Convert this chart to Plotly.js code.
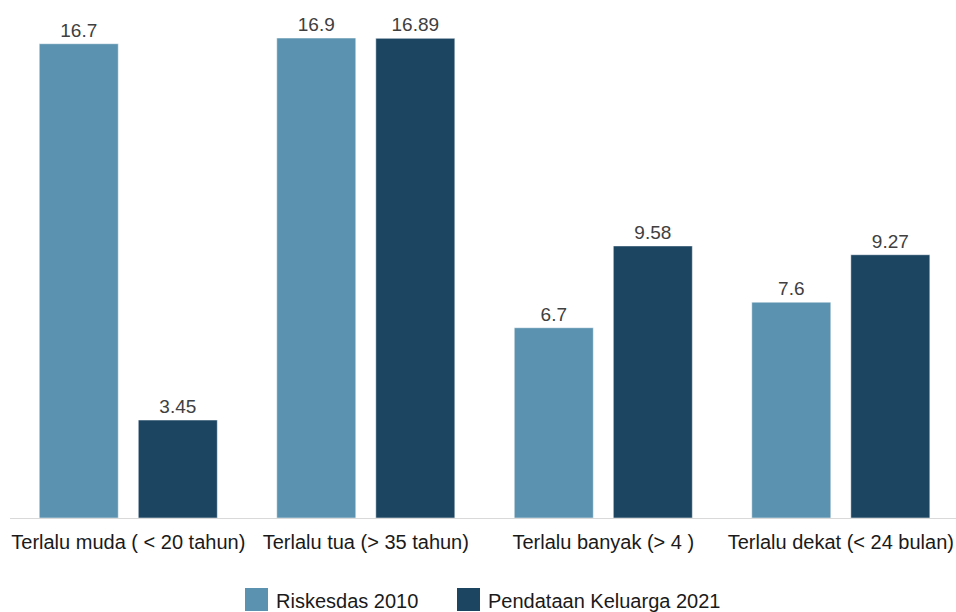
<!DOCTYPE html>
<html>
<head>
<meta charset="utf-8">
<script src="https://cdn.plot.ly/plotly-3.0.1.min.js"></script>
<style>html,body{margin:0;padding:0;background:#fff;}#chart{width:956px;height:612px;}</style>
</head>
<body>
<div id="chart"></div>
<script>
var categories = ["Terlalu muda ( < 20 tahun)", "Terlalu tua (> 35 tahun)", "Terlalu banyak (> 4 )", "Terlalu dekat (< 24 bulan)"];
var seriesNames = ["Riskesdas 2010", "Pendataan Keluarga 2021"];
var riskesdas2010 = [16.7, 16.9, 6.7, 7.6];
var pendataan2021 = [3.45, 16.89, 9.58, 9.27];
var colors = ["#5b92af", "#1c4562"];

var W = 956, H = 612, ML = 10, MR = 0, MT = 10, MB = 94;
var PW = W - ML - MR, PH = H - MT - MB;
function pxX(px){ return (px - ML) / PW; }
function pxY(py){ return (H - MB - py) / PH; }

var seriesValues = [riskesdas2010, pendataan2021];
var traces = seriesValues.map(function(vals, i){
  return {
    type: "bar",
    name: seriesNames[i],
    x: categories,
    y: vals,
    text: vals.map(String),
    textposition: "outside",
    textfont: {size: 19, color: "#404040", family: "Liberation Sans, Arial, sans-serif"},
    cliponaxis: false,
    marker: {color: colors[i], line: {color: "rgba(255,255,255,0.5)", width: 1}},
    showlegend: false,
    hoverinfo: "x+y"
  };
});

var legendX = [245, 457];
var shapes = [], annotations = [];
seriesNames.forEach(function(n, i){
  shapes.push({type: "rect", xref: "paper", yref: "paper",
    x0: pxX(legendX[i]), x1: pxX(legendX[i] + 23), y0: pxY(588), y1: pxY(611),
    fillcolor: colors[i], line: {width: 0}});
  annotations.push({xref: "paper", yref: "paper", x: pxX(legendX[i] + 29), y: pxY(601),
    xanchor: "left", yanchor: "middle", showarrow: false, text: n,
    font: {size: 20, color: "#1a1a1a", family: "Liberation Sans, Arial, sans-serif"}});
});

var layout = {
  width: W, height: H,
  margin: {l: ML, r: MR, t: MT, b: MB, pad: 0},
  paper_bgcolor: "#ffffff", plot_bgcolor: "#ffffff",
  font: {family: "Liberation Sans, Arial, sans-serif", color: "#1a1a1a"},
  barmode: "group",
  bargap: 0.166,
  bargroupgap: 0.202,
  xaxis: {
    type: "category",
    range: [-0.498, 3.485],
    showline: true, linecolor: "#d9d9d9", linewidth: 1,
    showgrid: false, zeroline: false, ticks: "",
    ticklabelstandoff: 6,
    tickfont: {size: 20, color: "#1a1a1a"},
    fixedrange: true
  },
  yaxis: {
    range: [0, 508 / 28.4],
    visible: false, showgrid: false, zeroline: false,
    fixedrange: true
  },
  shapes: shapes,
  annotations: annotations,
  showlegend: false
};

Plotly.newPlot("chart", traces, layout, {displayModeBar: false, staticPlot: true});
</script>
</body>
</html>
